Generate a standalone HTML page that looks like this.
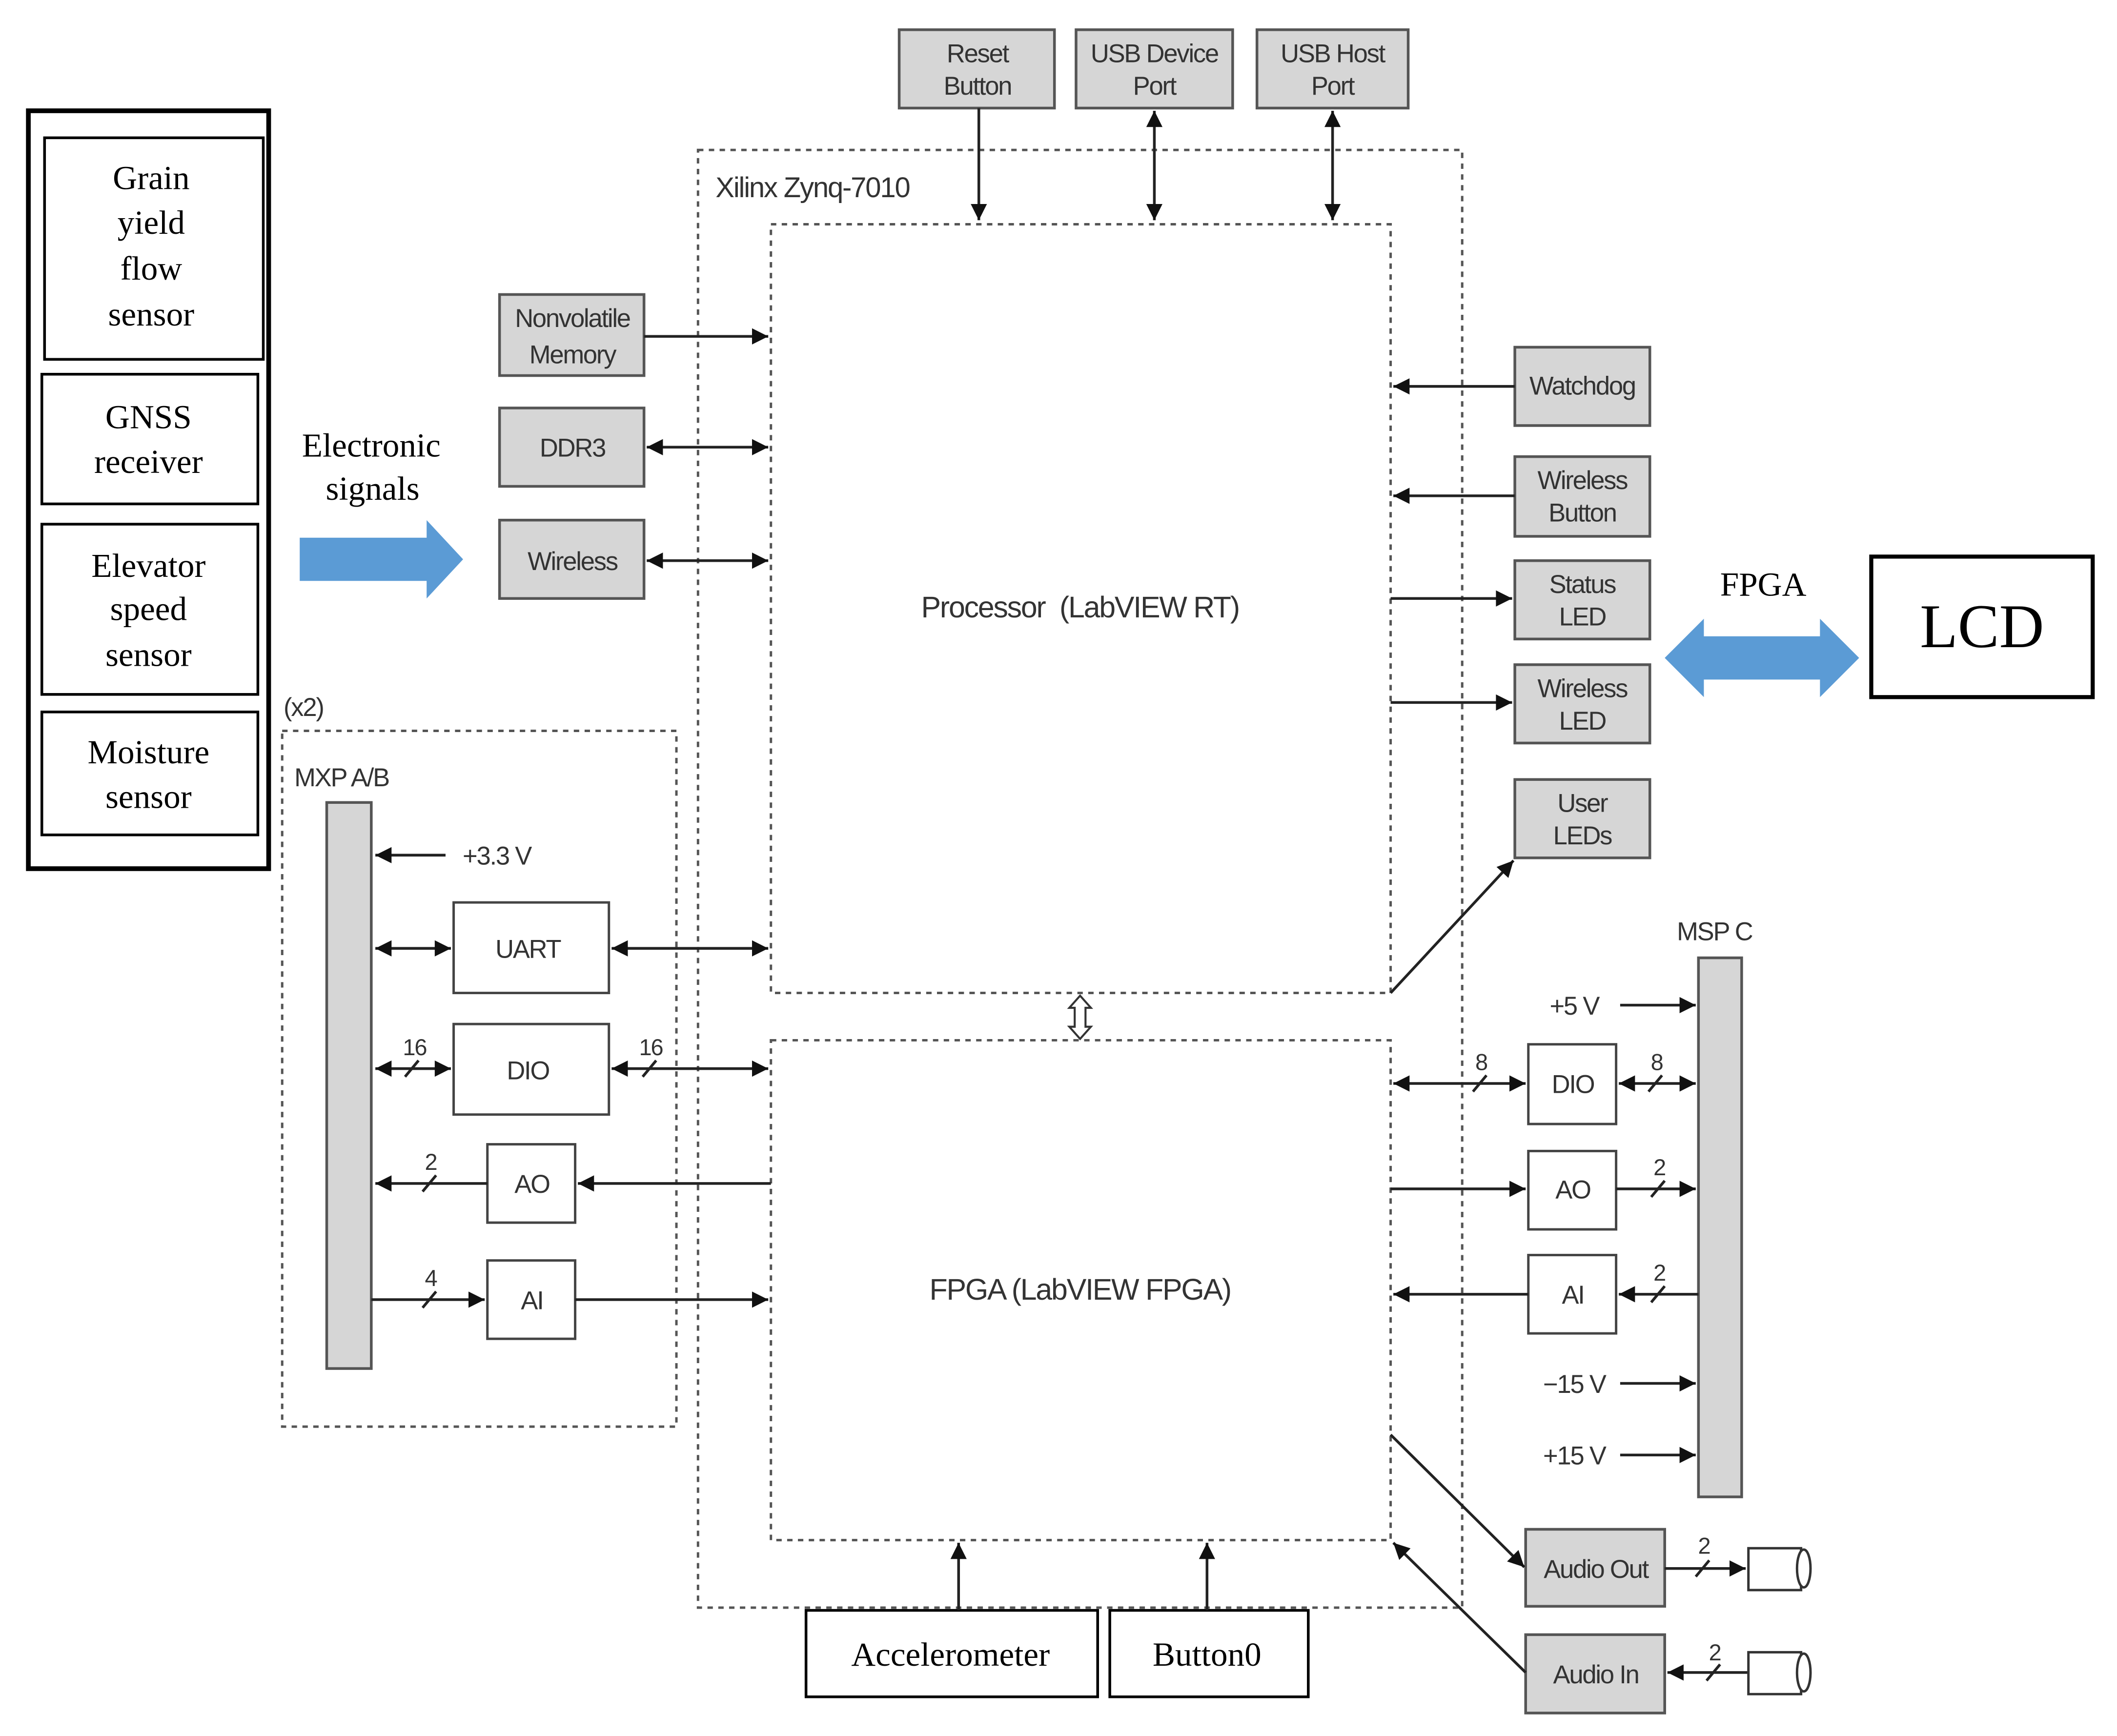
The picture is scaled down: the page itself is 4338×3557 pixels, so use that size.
<!DOCTYPE html>
<html><head><meta charset="utf-8"><style>
html,body{margin:0;padding:0;background:#fff}
svg{display:block}
.s{font-family:"Liberation Sans",sans-serif;font-size:19px;fill:#333;letter-spacing:-0.8px}
.r{font-family:"Liberation Serif",serif;font-size:25px;fill:#000}
.g{fill:#d6d6d6;stroke:#555;stroke-width:2}
.w{fill:#fff;stroke:#444;stroke-width:1.8}
.d{fill:none;stroke:#555;stroke-width:1.8;stroke-dasharray:4 4}
.l{stroke:#222;stroke-width:2;fill:none}
</style></head><body>
<svg width="4338" height="3557" viewBox="0 0 1568 1285" preserveAspectRatio="none" xmlns="http://www.w3.org/2000/svg">
<defs>
<marker id="b" viewBox="0 0 10 10" refX="10" refY="5" markerWidth="14" markerHeight="12" orient="auto-start-reverse" markerUnits="userSpaceOnUse"><path d="M0,0 L10,5 L0,10 z" fill="#111"/></marker>
</defs>
<rect x="21" y="82" width="178" height="561" fill="none" stroke="#000" stroke-width="3.5"/>
<rect x="33" y="102" width="162" height="164" fill="none" stroke="#000" stroke-width="2"/>
<rect x="31" y="277" width="160" height="96" fill="none" stroke="#000" stroke-width="2"/>
<rect x="31" y="388" width="160" height="126" fill="none" stroke="#000" stroke-width="2"/>
<rect x="31" y="527" width="160" height="91" fill="none" stroke="#000" stroke-width="2"/>
<g class="r" text-anchor="middle">
<text x="112" y="140">Grain</text><text x="112" y="173">yield</text><text x="112" y="207">flow</text><text x="112" y="241">sensor</text>
<text x="110" y="317">GNSS</text><text x="110" y="350">receiver</text>
<text x="110" y="427">Elevator</text><text x="110" y="459">speed</text><text x="110" y="493">sensor</text>
<text x="110" y="565">Moisture</text><text x="110" y="598">sensor</text>
<text x="275" y="338">Electronic</text><text x="276" y="370">signals</text>
<text x="1306" y="441">FPGA</text>
</g>
<path d="M222,398 H316 V385 L343,414 L316,443 V430 H222 Z" fill="#5b9bd5"/>
<path d="M1233,487 L1262,458 V471 H1348 V458 L1377,487 L1348,516 V503 H1262 V516 Z" fill="#5b9bd5"/>
<rect x="1386" y="412" width="164" height="104" fill="#fff" stroke="#000" stroke-width="3"/>
<text x="1468" y="479" text-anchor="middle" font-family="Liberation Serif,serif" font-size="46" fill="#000">LCD</text>
<rect class="d" x="517" y="111" width="566" height="1079"/>
<rect class="d" x="571" y="166" width="459" height="569"/>
<rect class="d" x="571" y="770" width="459" height="370"/>
<rect class="d" x="209" y="541" width="292" height="515"/>
<g class="s">
<text x="530" y="146" font-size="21">Xilinx Zynq-7010</text>
<text x="800" y="457" text-anchor="middle" font-size="22">Processor&#160; (LabVIEW RT)</text>
<text x="800" y="962" text-anchor="middle" font-size="22">FPGA (LabVIEW FPGA)</text>
<text x="210" y="530">(x2)</text>
<text x="218" y="582">MXP A/B</text>
<text x="1242" y="696">MSP C</text>
</g>
<rect class="g" x="666" y="22" width="115" height="58"/>
<rect class="g" x="797" y="22" width="116" height="58"/>
<rect class="g" x="931" y="22" width="112" height="58"/>
<rect class="g" x="370" y="218" width="107" height="60"/>
<rect class="g" x="370" y="302" width="107" height="58"/>
<rect class="g" x="370" y="385" width="107" height="58"/>
<rect class="g" x="1122" y="257" width="100" height="58"/>
<rect class="g" x="1122" y="338" width="100" height="59"/>
<rect class="g" x="1122" y="415" width="100" height="58"/>
<rect class="g" x="1122" y="492" width="100" height="58"/>
<rect class="g" x="1122" y="577" width="100" height="58"/>
<rect class="g" x="1130" y="1132" width="103" height="57"/>
<rect class="g" x="1130" y="1210" width="103" height="58"/>
<rect class="g" x="242" y="594" width="33" height="419"/>
<rect class="g" x="1258" y="709" width="32" height="399"/>
<g class="s" text-anchor="middle">
<text x="724" y="46">Reset</text><text x="724" y="70">Button</text>
<text x="855" y="46">USB Device</text><text x="855" y="70">Port</text>
<text x="987" y="46">USB Host</text><text x="987" y="70">Port</text>
<text x="424" y="242">Nonvolatile</text><text x="424" y="269">Memory</text>
<text x="424" y="338">DDR3</text>
<text x="424" y="422">Wireless</text>
<text x="1172" y="292">Watchdog</text>
<text x="1172" y="362">Wireless</text><text x="1172" y="386">Button</text>
<text x="1172" y="439">Status</text><text x="1172" y="463">LED</text>
<text x="1172" y="516">Wireless</text><text x="1172" y="540">LED</text>
<text x="1172" y="601">User</text><text x="1172" y="625">LEDs</text>
<text x="1182" y="1168">Audio Out</text>
<text x="1182" y="1246">Audio In</text>
</g>
<rect class="w" x="336" y="668" width="115" height="67"/>
<rect class="w" x="336" y="758" width="115" height="67"/>
<rect class="w" x="361" y="847" width="65" height="58"/>
<rect class="w" x="361" y="933" width="65" height="58"/>
<rect class="w" x="1132" y="773" width="65" height="59"/>
<rect class="w" x="1132" y="852" width="65" height="58"/>
<rect class="w" x="1132" y="929" width="65" height="58"/>
<rect x="597" y="1192" width="216" height="64" fill="#fff" stroke="#000" stroke-width="2"/>
<rect x="822" y="1192" width="147" height="64" fill="#fff" stroke="#000" stroke-width="2"/>
<g class="r" text-anchor="middle"><text x="704" y="1233">Accelerometer</text><text x="894" y="1233">Button0</text></g>
<g class="s" text-anchor="middle">
<text x="391" y="709">UART</text><text x="391" y="799">DIO</text><text x="394" y="883">AO</text><text x="394" y="969">AI</text>
<text x="1165" y="809">DIO</text><text x="1165" y="887">AO</text><text x="1165" y="965">AI</text>
<text x="368" y="640">+3.3 V</text>
<text x="1166" y="751">+5 V</text><text x="1166" y="1031">−15 V</text><text x="1166" y="1084">+15 V</text>
<text x="307" y="781" font-size="17">16</text><text x="482" y="781" font-size="17">16</text>
<text x="319" y="866" font-size="17">2</text><text x="319" y="952" font-size="17">4</text>
<text x="1097" y="792" font-size="17">8</text><text x="1227" y="792" font-size="17">8</text>
<text x="1229" y="870" font-size="17">2</text><text x="1229" y="948" font-size="17">2</text>
<text x="1262" y="1150" font-size="17">2</text><text x="1270" y="1229" font-size="17">2</text>
</g>
<g class="l">
<line x1="725" y1="80" x2="725" y2="163" marker-end="url(#b)"/>
<line x1="855" y1="82" x2="855" y2="163" marker-start="url(#b)" marker-end="url(#b)"/>
<line x1="987" y1="82" x2="987" y2="163" marker-start="url(#b)" marker-end="url(#b)"/>
<line x1="477" y1="249" x2="569" y2="249" marker-end="url(#b)"/>
<line x1="479" y1="331" x2="569" y2="331" marker-start="url(#b)" marker-end="url(#b)"/>
<line x1="479" y1="415" x2="569" y2="415" marker-start="url(#b)" marker-end="url(#b)"/>
<line x1="1122" y1="286" x2="1032" y2="286" marker-end="url(#b)"/>
<line x1="1122" y1="367" x2="1032" y2="367" marker-end="url(#b)"/>
<line x1="1030" y1="443" x2="1120" y2="443" marker-end="url(#b)"/>
<line x1="1030" y1="520" x2="1120" y2="520" marker-end="url(#b)"/>
<line x1="1030" y1="735" x2="1121" y2="637" marker-end="url(#b)"/>
<line x1="330" y1="633" x2="278" y2="633" marker-end="url(#b)"/>
<line x1="278" y1="702" x2="334" y2="702" marker-start="url(#b)" marker-end="url(#b)"/>
<line x1="453" y1="702" x2="569" y2="702" marker-start="url(#b)" marker-end="url(#b)"/>
<line x1="278" y1="791" x2="334" y2="791" marker-start="url(#b)" marker-end="url(#b)"/>
<line x1="453" y1="791" x2="569" y2="791" marker-start="url(#b)" marker-end="url(#b)"/>
<line x1="361" y1="876" x2="278" y2="876" marker-end="url(#b)"/>
<line x1="571" y1="876" x2="428" y2="876" marker-end="url(#b)"/>
<line x1="275" y1="962" x2="359" y2="962" marker-end="url(#b)"/>
<line x1="426" y1="962" x2="569" y2="962" marker-end="url(#b)"/>
<line x1="1200" y1="744" x2="1256" y2="744" marker-end="url(#b)"/>
<line x1="1032" y1="802" x2="1130" y2="802" marker-start="url(#b)" marker-end="url(#b)"/>
<line x1="1199" y1="802" x2="1256" y2="802" marker-start="url(#b)" marker-end="url(#b)"/>
<line x1="1030" y1="880" x2="1130" y2="880" marker-end="url(#b)"/>
<line x1="1197" y1="880" x2="1256" y2="880" marker-end="url(#b)"/>
<line x1="1258" y1="958" x2="1199" y2="958" marker-end="url(#b)"/>
<line x1="1132" y1="958" x2="1032" y2="958" marker-end="url(#b)"/>
<line x1="1200" y1="1024" x2="1256" y2="1024" marker-end="url(#b)"/>
<line x1="1200" y1="1077" x2="1256" y2="1077" marker-end="url(#b)"/>
<line x1="1030" y1="1062" x2="1129" y2="1160" marker-end="url(#b)"/>
<line x1="1130" y1="1238" x2="1032" y2="1142" marker-end="url(#b)"/>
<line x1="1233" y1="1161" x2="1293" y2="1161" marker-end="url(#b)"/>
<line x1="1295" y1="1238" x2="1235" y2="1238" marker-end="url(#b)"/>
<line x1="710" y1="1192" x2="710" y2="1142" marker-end="url(#b)"/>
<line x1="894" y1="1192" x2="894" y2="1142" marker-end="url(#b)"/>
<line x1="300" y1="797" x2="310" y2="785"/><line x1="476" y1="797" x2="486" y2="785"/>
<line x1="313" y1="882" x2="323" y2="870"/><line x1="313" y1="968" x2="323" y2="956"/>
<line x1="1091" y1="808" x2="1101" y2="796"/><line x1="1221" y1="808" x2="1231" y2="796"/>
<line x1="1223" y1="886" x2="1233" y2="874"/><line x1="1223" y1="964" x2="1233" y2="952"/>
<line x1="1256" y1="1167" x2="1266" y2="1155"/><line x1="1264" y1="1244" x2="1274" y2="1232"/>
</g>
<g fill="#fff" stroke="#333" stroke-width="1.8">
<path d="M1295,1146 H1334 V1177 H1295 Z"/><ellipse cx="1336" cy="1161" rx="5" ry="14"/>
<path d="M1295,1223 H1334 V1254 H1295 Z"/><ellipse cx="1336" cy="1238" rx="5" ry="14"/>
</g>
<path d="M800,737 L808,746 H804 V760 H808 L800,769 L792,760 H796 V746 H792 Z" fill="#fff" stroke="#333" stroke-width="1.5"/>
</svg>
</body></html>
